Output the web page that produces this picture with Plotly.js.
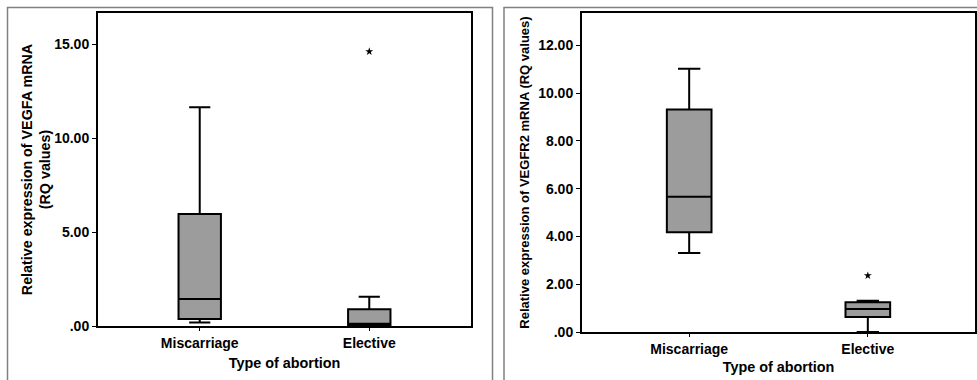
<!DOCTYPE html>
<html>
<head>
<meta charset="utf-8">
<script src="https://cdn.plot.ly/plotly-3.0.1.min.js"></script>
<style>html,body{margin:0;padding:0;background:#fff;}#chart{width:977px;height:380px;}</style>
</head>
<body>
<div id="chart"></div>
<script>
const categories = ['Miscarriage', 'Elective'];

// VEGFA (left panel)
const vegfaLower  = [0.18, 0.03];
const vegfaQ1     = [0.37, 0.05];
const vegfaMedian = [1.44, 0.12];
const vegfaQ3     = [5.96, 0.89];
const vegfaUpper  = [11.63, 1.56];
const vegfaOutlierCat = ['Elective'];
const vegfaOutlierVal = [14.6];
const vegfaTickVals = [0, 5, 10, 15];
const vegfaTickText = ['.00', '5.00', '10.00', '15.00'];

// VEGFR2 (right panel)
const vegfr2Lower  = [3.31, 0.0];
const vegfr2Q1     = [4.17, 0.63];
const vegfr2Median = [5.66, 0.96];
const vegfr2Q3     = [9.31, 1.25];
const vegfr2Upper  = [11.02, 1.31];
const vegfr2OutlierCat = ['Elective'];
const vegfr2OutlierVal = [2.36];
const vegfr2TickVals = [0, 2, 4, 6, 8, 10, 12];
const vegfr2TickText = ['.00', '2.00', '4.00', '6.00', '8.00', '10.00', '12.00'];

const FONT = 'Liberation Sans, Arial, sans-serif';
const boxStyle = {
  type: 'box', boxpoints: false, fillcolor: '#9c9c9c',
  line: {color: '#000', width: 2}, width: 0.25, whiskerwidth: 0.5,
  showlegend: false, hoverinfo: 'skip'
};

const traces = [
  Object.assign({}, boxStyle, {
    x: categories, q1: vegfaQ1, median: vegfaMedian, q3: vegfaQ3,
    lowerfence: vegfaLower, upperfence: vegfaUpper, xaxis: 'x', yaxis: 'y'
  }),
  {type: 'scatter', mode: 'markers', x: vegfaOutlierCat, y: vegfaOutlierVal,
   marker: {symbol: 'star', size: 6, color: '#000'}, showlegend: false, xaxis: 'x', yaxis: 'y'},
  Object.assign({}, boxStyle, {
    x: categories, q1: vegfr2Q1, median: vegfr2Median, q3: vegfr2Q3,
    lowerfence: vegfr2Lower, upperfence: vegfr2Upper, xaxis: 'x2', yaxis: 'y2'
  }),
  {type: 'scatter', mode: 'markers', x: vegfr2OutlierCat, y: vegfr2OutlierVal,
   marker: {symbol: 'star', size: 6, color: '#000'}, showlegend: false, xaxis: 'x2', yaxis: 'y2'}
];

const tickFont = {family: FONT, size: 14, color: '#000', weight: 700};
const titleFont = {family: FONT, size: 14.4, color: '#000', weight: 700};
const W = 977, H = 380;
function xAxis(l, r, anchor, standoff) {
  return {
    domain: [l / W, r / W], anchor: anchor, type: 'category',
    categoryorder: 'array', categoryarray: categories, range: [-0.6, 1.6],
    showline: true, linecolor: '#000', linewidth: 2, mirror: true,
    ticks: 'outside', ticklen: 3, tickcolor: '#000', tickwidth: 1,
    tickfont: tickFont, showgrid: false, zeroline: false, fixedrange: true,
    title: {text: 'Type of abortion', font: titleFont, standoff: standoff}
  };
}
function yAxis(t, b, anchor, range, vals, text, title, size, standoff) {
  return {
    domain: [(H - b) / H, (H - t) / H], anchor: anchor, range: range,
    tickvals: vals, ticktext: text,
    showline: true, linecolor: '#000', linewidth: 2, mirror: true,
    ticks: 'outside', ticklen: 4, tickcolor: '#000', tickwidth: 1,
    tickfont: tickFont, showgrid: false, zeroline: false, fixedrange: true,
    title: {text: title, font: Object.assign({}, titleFont, {size: size}), standoff: standoff}
  };
}

const layout = {
  width: W, height: H, margin: {l: 0, r: 0, t: 0, b: 0},
  paper_bgcolor: '#fff', plot_bgcolor: '#fff', showlegend: false,
  xaxis: xAxis(98, 471, 'y', 8),
  yaxis: yAxis(13, 326, 'x', [0, 16.65], vegfaTickVals, vegfaTickText,
    'Relative expression of VEGFA mRNA<br>(RQ values)', 14.3, 0),
  xaxis2: xAxis(582, 975, 'y2', 6),
  yaxis2: yAxis(13, 332, 'x2', [0, 13.35], vegfr2TickVals, vegfr2TickText,
    'Relative expression of VEGFR2 mRNA (RQ values)', 13, 6),
  shapes: [
    {type: 'rect', xref: 'paper', yref: 'paper', x0: 7.5 / W, x1: 492.5 / W, y0: -0.05, y1: (H - 7.5) / H,
     line: {color: '#808080', width: 1.5}},
    {type: 'rect', xref: 'paper', yref: 'paper', x0: 504 / W, x1: 1.05, y0: -0.05, y1: (H - 7.5) / H,
     line: {color: '#808080', width: 1.5}}
  ]
};

Plotly.newPlot('chart', traces, layout, {displayModeBar: false, staticPlot: true});
</script>
</body>
</html>
